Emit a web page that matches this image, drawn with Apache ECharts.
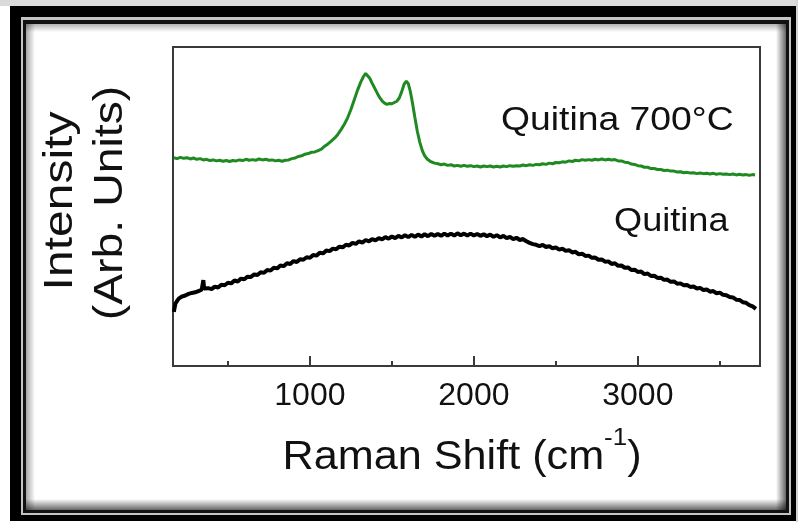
<!DOCTYPE html>
<html>
<head>
<meta charset="utf-8">
<script src="https://cdn.jsdelivr.net/npm/echarts@6/dist/echarts.min.js"></script>
<style>
  html, body { margin: 0; padding: 0; background: #ffffff; }
  #chart { width: 798px; height: 522px; }
</style>
</head>
<body>
<div id="chart"></div>
<script>
// Raman spectra: [wavenumber (cm-1), intensity (arb. units)]
const quitina700 = [
  [170,65.3],[190,65.0],[210,65.4],[230,65.1],[250,65.3],[270,64.9],[290,65.2],[310,64.8],
  [330,65.0],[350,64.6],[370,64.8],[390,64.4],[410,64.6],[430,64.3],[450,64.5],[470,64.2],
  [490,64.4],[510,64.1],[530,64.4],[550,64.3],[570,64.6],[590,64.4],[610,64.8],[630,64.5],
  [650,64.7],[670,64.5],[690,64.9],[710,64.6],[730,64.8],[750,64.5],[770,64.6],[790,64.3],
  [810,64.5],[830,64.2],[850,64.5],[870,64.6],[890,65.0],[910,65.2],[930,65.7],[950,65.9],
  [970,66.4],[990,66.6],[1010,67.0],[1030,67.1],[1050,67.5],[1070,68.0],[1090,68.9],
  [1110,69.6],[1130,70.5],[1150,71.4],[1170,72.6],[1190,74.1],[1210,75.8],[1230,77.8],
  [1250,80.4],[1270,83.4],[1290,86.4],[1310,89.0],[1325,90.6],[1340,91.7],[1352,91.3],
  [1365,90.2],[1380,88.6],[1395,87.1],[1410,85.6],[1425,84.2],[1440,83.1],[1455,82.4],
  [1470,82.0],[1485,82.3],[1500,82.2],[1515,82.6],[1530,83.0],[1545,84.0],[1560,86.0],
  [1575,88.4],[1588,89.3],[1600,88.5],[1612,86.2],[1625,82.6],[1640,78.0],[1655,73.6],
  [1670,70.2],[1685,67.6],[1700,65.9],[1715,64.9],[1735,64.1],[1760,63.6],[1780,63.4],
  [1800,63.1],[1820,63.3],[1840,62.9],[1860,63.1],[1880,62.7],[1900,62.9],[1920,62.6],
  [1940,62.9],[1960,62.6],[1980,62.8],[2000,62.5],[2020,62.7],[2040,62.4],[2060,62.7],
  [2080,62.5],[2100,62.7],[2120,62.4],[2140,62.6],[2160,62.4],[2180,62.7],[2200,62.5],
  [2220,62.8],[2240,62.6],[2260,62.8],[2280,62.7],[2300,63.0],[2320,62.8],[2340,63.1],
  [2360,62.9],[2380,63.2],[2400,63.1],[2420,63.4],[2440,63.2],[2460,63.6],[2480,63.4],
  [2500,63.8],[2520,63.7],[2540,64.0],[2560,63.9],[2580,64.3],[2600,64.1],[2620,64.5],
  [2640,64.3],[2660,64.7],[2680,64.5],[2700,64.7],[2720,64.5],[2740,64.8],[2760,64.6],
  [2780,64.9],[2800,64.6],[2820,64.8],[2840,64.6],[2860,64.7],[2880,64.3],[2900,64.3],
  [2920,63.9],[2940,63.8],[2960,63.3],[2980,63.2],[3000,62.8],[3020,62.7],[3040,62.3],
  [3060,62.3],[3080,61.9],[3100,61.9],[3120,61.6],[3140,61.6],[3160,61.3],[3180,61.4],
  [3200,61.1],[3220,61.1],[3240,60.8],[3260,60.9],[3280,60.6],[3300,60.7],[3320,60.5],
  [3340,60.6],[3360,60.3],[3380,60.5],[3400,60.3],[3420,60.4],[3440,60.2],[3460,60.4],
  [3480,60.1],[3500,60.3],[3520,60.1],[3540,60.2],[3560,60.0],[3580,60.2],[3600,59.9],
  [3620,60.1],[3640,59.9],[3660,60.0],[3680,59.8],[3700,60.0],[3715,59.9]
];

const quitina = [
  [170,17.0],[180,19.6],[190,20.4],[200,21.1],[210,21.0],[220,21.8],[230,21.5],[240,22.1],
  [250,21.9],[260,22.6],[270,22.2],[280,22.9],[290,22.5],[300,23.1],[310,22.8],[320,23.5],
  [330,23.2],[340,23.9],[350,26.9],[355,24.3],[360,23.9],[380,24.4],[400,24.1],[420,24.9],
  [440,24.6],[460,25.5],[480,25.3],[500,26.1],[520,25.9],[540,26.8],[560,26.5],[580,27.4],
  [600,27.2],[620,28.0],[640,27.9],[660,28.7],[680,28.5],[700,29.4],[720,29.2],[740,30.1],
  [760,29.9],[780,30.8],[800,30.6],[820,31.5],[840,31.3],[860,32.2],[880,32.0],[900,32.9],
  [920,32.6],[940,33.5],[960,33.3],[980,34.1],[1000,33.9],[1020,34.8],[1040,34.6],
  [1060,35.5],[1080,35.3],[1100,36.2],[1120,36.0],[1140,36.8],[1160,36.6],[1180,37.4],
  [1200,37.2],[1220,38.0],[1240,37.8],[1260,38.6],[1280,38.3],[1300,39.1],[1320,38.7],
  [1340,39.5],[1360,39.1],[1380,39.8],[1400,39.4],[1420,40.1],[1440,39.7],[1460,40.4],
  [1480,39.9],[1500,40.6],[1520,40.1],[1540,40.8],[1560,40.3],[1580,41.0],[1600,40.4],
  [1620,41.1],[1640,40.5],[1660,41.2],[1680,40.6],[1700,41.3],[1720,40.7],[1740,41.4],
  [1760,40.8],[1780,41.4],[1800,40.8],[1820,41.5],[1840,40.9],[1860,41.5],[1880,40.9],
  [1900,41.6],[1920,41.0],[1940,41.5],[1960,40.9],[1980,41.5],[2000,40.9],[2020,41.4],
  [2040,40.8],[2060,41.3],[2080,40.7],[2100,41.2],[2120,40.5],[2140,41.0],[2160,40.3],
  [2180,40.8],[2200,40.1],[2220,40.5],[2240,39.8],[2260,40.2],[2280,39.5],[2300,39.8],
  [2320,39.1],[2340,38.6],[2360,38.2],[2380,38.0],[2400,37.6],[2420,38.0],[2440,37.3],
  [2460,37.6],[2480,36.9],[2500,37.2],[2520,36.5],[2540,36.8],[2560,36.1],[2580,36.3],
  [2600,35.6],[2620,35.8],[2640,35.0],[2660,35.2],[2680,34.5],[2700,34.6],[2720,33.9],
  [2740,34.0],[2760,33.3],[2780,33.4],[2800,32.7],[2820,32.8],[2840,32.0],[2860,32.2],
  [2880,31.4],[2900,31.5],[2920,30.8],[2940,30.9],[2960,30.1],[2980,30.2],[3000,29.5],
  [3020,29.6],[3040,28.8],[3060,29.0],[3080,28.2],[3100,28.3],[3120,27.6],[3140,27.7],
  [3160,27.0],[3180,27.1],[3200,26.4],[3220,26.5],[3240,25.8],[3260,25.9],[3280,25.3],
  [3300,25.4],[3320,24.8],[3340,24.9],[3360,24.3],[3380,24.5],[3400,23.8],[3420,24.0],
  [3440,23.3],[3460,23.5],[3480,22.8],[3500,23.0],[3520,22.3],[3540,22.2],[3560,21.6],
  [3580,21.5],[3600,20.8],[3620,20.7],[3640,20.0],[3660,19.8],[3680,19.1],[3700,18.7],
  [3720,17.9]
];

const majorTicks = [1000, 2000, 3000];
const minorTicks = [500, 1500, 2500, 3500];
const xRange = [165, 3745];
const seriesNames = ['Quitina 700°C', 'Quitina'];
const yTitleLines = ['Intensity', '(Arb. Units)'];

const chart = echarts.init(document.getElementById('chart'), null, { renderer: 'canvas' });

const WORD_FONT = '"Liberation Sans", Arial, sans-serif';
const STRETCH = 1.13;

// Picture-frame border drawn around the figure
const frame = [
  { type: 'rect', z: -10, shape: { x: 0, y: 0, width: 798, height: 522 }, style: { fill: '#ffffff' } },
  { type: 'rect', z: -10, shape: { x: 0, y: 0, width: 798, height: 6 }, style: { fill: '#dadada' } },
  { type: 'rect', z: -10, shape: { x: 796, y: 0, width: 2, height: 522 }, style: { fill: '#d2d2d2' } },
  { type: 'rect', z: -9, shape: { x: 10, y: 6, width: 786, height: 515 }, style: { fill: '#000000' } },
  { type: 'rect', z: -8, shape: { x: 21, y: 17, width: 770, height: 498 }, style: { fill: '#c4c4c4' } },
  { type: 'rect', z: -7, shape: { x: 23, y: 20, width: 766, height: 493 }, style: { fill: '#111111' } },
  { type: 'rect', z: -6, shape: { x: 26, y: 24, width: 760, height: 486 }, style: { fill: '#ffffff' } },
  { type: 'rect', z: -5, shape: { x: 26, y: 24, width: 9, height: 486 },
    style: { fill: { type: 'linear', x: 0, y: 0, x2: 1, y2: 0,
      colorStops: [{ offset: 0, color: 'rgba(0,0,0,0.35)' }, { offset: 1, color: 'rgba(0,0,0,0)' }] } } },
  { type: 'rect', z: -5, shape: { x: 26, y: 24, width: 760, height: 8 },
    style: { fill: { type: 'linear', x: 0, y: 0, x2: 0, y2: 1,
      colorStops: [{ offset: 0, color: 'rgba(0,0,0,0.3)' }, { offset: 1, color: 'rgba(0,0,0,0)' }] } } },
  { type: 'rect', z: -5, shape: { x: 776, y: 24, width: 10, height: 486 },
    style: { fill: { type: 'linear', x: 0, y: 0, x2: 1, y2: 0,
      colorStops: [{ offset: 0, color: 'rgba(0,0,0,0)' }, { offset: 1, color: 'rgba(0,0,0,0.6)' }] } } },
  { type: 'rect', z: -5, shape: { x: 26, y: 499, width: 760, height: 11 },
    style: { fill: { type: 'linear', x: 0, y: 0, x2: 0, y2: 1,
      colorStops: [{ offset: 0, color: 'rgba(0,0,0,0)' }, { offset: 1, color: 'rgba(0,0,0,0.6)' }] } } }
];

// Titles and curve labels
const texts = [
  { type: 'text', z: 10, x: 501, y: 121, scaleX: STRETCH,
    style: { text: seriesNames[0], font: '33px ' + WORD_FONT, fill: '#111',
             textAlign: 'left', textVerticalAlign: 'middle' } },
  { type: 'text', z: 10, x: 614, y: 222, scaleX: STRETCH * 0.97,
    style: { text: seriesNames[1], font: '33px ' + WORD_FONT, fill: '#111',
             textAlign: 'left', textVerticalAlign: 'middle' } },
  { type: 'text', z: 10, x: 61, y: 201, rotation: Math.PI / 2, scaleX: 1.2,
    style: { text: yTitleLines[0], font: '40px ' + WORD_FONT, fill: '#111',
             textAlign: 'center', textVerticalAlign: 'middle' } },
  { type: 'text', z: 10, x: 111, y: 203, rotation: Math.PI / 2, scaleX: 1.16,
    style: { text: yTitleLines[1], font: '40px ' + WORD_FONT, fill: '#111',
             textAlign: 'center', textVerticalAlign: 'middle' } },
  { type: 'text', z: 10, x: 462, y: 458, scaleX: 1.08,
    style: { text: '{a|Raman Shift (cm}{s|-1}{a|)}', fill: '#111',
             textAlign: 'center', textVerticalAlign: 'middle',
             rich: {
               a: { fontSize: 40, fontFamily: WORD_FONT, lineHeight: 64, fill: '#111' },
               s: { fontSize: 24, fontFamily: WORD_FONT, lineHeight: 24, verticalAlign: 'top', fill: '#111' }
             } } }
];

const option = {
  animation: false,
  backgroundColor: 'transparent',
  graphic: { elements: frame.concat(texts) },
  grid: {
    left: 173, right: 38, top: 47, bottom: 156,
    show: true, z: 2, borderColor: '#3a3a3a', borderWidth: 2, backgroundColor: 'transparent'
  },
  xAxis: [
    {
      type: 'value', min: xRange[0], max: xRange[1], position: 'bottom', z: 3,
      axisLine: { show: true, lineStyle: { color: '#3a3a3a', width: 2 } },
      axisTick: { show: true, inside: true, length: 10, customValues: majorTicks,
                  lineStyle: { color: '#3a3a3a', width: 2 } },
      axisLabel: { show: true, customValues: majorTicks, margin: 14,
                   formatter: (v) => String(v),
                   fontFamily: '"Liberation Sans", Arial, sans-serif', fontSize: 32, color: '#111' },
      splitLine: { show: false }
    },
    {
      type: 'value', min: xRange[0], max: xRange[1], position: 'bottom', z: 3,
      axisLine: { show: false },
      axisTick: { show: true, inside: true, length: 5, customValues: minorTicks,
                  lineStyle: { color: '#3a3a3a', width: 2 } },
      axisLabel: { show: false },
      splitLine: { show: false }
    }
  ],
  yAxis: {
    type: 'value', min: 0, max: 100,
    axisLine: { show: true, lineStyle: { color: '#3a3a3a', width: 2 } },
    axisTick: { show: false }, axisLabel: { show: false }, splitLine: { show: false }
  },
  series: [
    { name: seriesNames[0], type: 'line', data: quitina700, showSymbol: false, z: 4,
      lineStyle: { color: '#1f8a22', width: 3 } },
    { name: seriesNames[1], type: 'line', data: quitina, showSymbol: false, z: 4,
      lineStyle: { color: '#000000', width: 4 } }
  ]
};

chart.setOption(option);
</script>
</body>
</html>
